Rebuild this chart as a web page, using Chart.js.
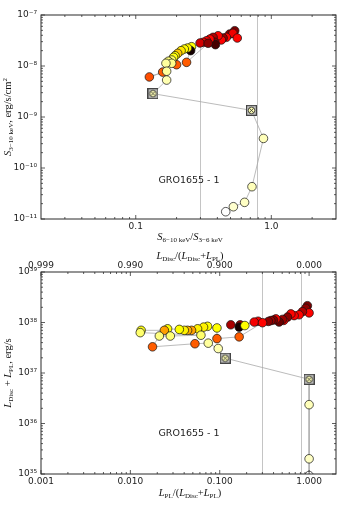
<!DOCTYPE html>
<html><head><meta charset="utf-8">
<script src="https://cdn.jsdelivr.net/npm/chart.js@4.4.1/dist/chart.umd.min.js"></script>
<style>
html,body{margin:0;padding:0;background:#fff;}
#wrap{position:relative;width:341px;height:511px;overflow:hidden;}
#c1{position:absolute;left:0;top:0;}
#c2{position:absolute;left:0;top:250px;}
</style></head><body>
<div id="wrap"><canvas id="c1" width="341" height="250"></canvas><canvas id="c2" width="341" height="261"></canvas></div>
<script>
// ---------- DATA ----------
// Upper panel: hardness S(6-10 keV)/S(3-6 keV) vs flux S(3-10 keV), in time order
const topHardness = [0.537,0.493,0.521,0.561,0.466,0.441,0.428,0.405,0.372,0.383,0.387,0.352,0.333,0.315,0.298,0.342,
  0.237,0.258,0.254,0.241,0.228,0.216,0.204,0.195,0.190,0.200,0.184,0.174,0.184,0.167,0.158,0.126,0.169,0.169,
  0.134,0.714,0.875,0.720,0.635,0.525,0.461];
const topFlux = [4.92e-8,4.24e-8,4.38e-8,3.54e-8,3.65e-8,3.54e-8,3.24e-8,3.92e-8,3.65e-8,2.92e-8,2.62e-8,3.38e-8,3.13e-8,2.92e-8,2.83e-8,2.79e-8,
  1.18e-8,2.39e-8,2.00e-8,2.25e-8,2.15e-8,2.00e-8,1.77e-8,1.59e-8,1.48e-8,1.06e-8,1.31e-8,1.24e-8,1.13e-8,1.13e-8,7.6e-9,6.1e-9,7.9e-9,5.3e-9,
  2.87e-9,1.35e-9,3.8e-10,4.3e-11,2.12e-11,1.74e-11,1.39e-11];
// colour-coded phase of the outburst (0 = early/dark, 1 = late/white)
const topPhase = [0.18,0.20,0.34,0.37,0.37,0.22,0.36,0.37,0.25,0.20,0.10,0.37,0.36,0.34,0.30,0.20,
  0.50,0.74,0.03,0.72,0.74,0.70,0.66,0.74,0.76,0.50,0.84,0.86,0.88,0.90,0.50,0.48,0.90,0.92,
  0.92,0.92,0.93,0.93,0.94,0.95,1.00];
const topFlagged = [0,0,0,0,0,0,0,0,0,0,0,0,0,0,0,0, 0,0,0,0,0,0,0,0,0,0,0,0,0,0,0,0,0,0, 1,1,0,0,0,0,0];

// Lower panel: L_PL/(L_Disc+L_PL) vs L_Disc+L_PL (erg/s), in time order
const botPLFraction = [0.957,0.919,1.0,0.842,0.773,0.680,0.625,0.573,0.520,0.503,0.462,0.425,0.400,0.373,0.350,0.269,0.243,
  0.169,0.165,0.191,0.133,0.301,0.165,0.0931,
  0.0931,0.0731,0.0659,0.0565,0.0484,0.0437,0.0401,0.0353,0.0261,0.0240,0.0132,0.0129,0.0616,0.0280,0.0211,0.0177,0.0528,0.0744,0.0962,
  0.115,1.0,1.0,1.0,1.0];
const botLum = [2.15e38,1.91e38,1.55e38,1.64e38,1.42e38,1.37e38,1.48e38,1.28e38,1.10e38,1.15e38,1.02e38,1.18e38,1.12e38,1.09e38,1.05e38,1.06e38,1.02e38,
  9.0e37,8.1e37,8.7e37,9.0e37,9.9e37,5.2e37,4.8e37,
  7.8e37,8.4e37,8.1e37,7.5e37,7.0e37,7.0e37,7.0e37,7.3e37,7.5e37,7.0e37,7.0e37,6.3e37,5.6e37,5.4e37,5.4e37,3.3e37,3.8e37,3.9e37,3.05e37,
  1.97e37,7.5e36,2.36e36,2.0e35,9.3e34];
const botPhase = [0.18,0.20,0.37,0.25,0.37,0.36,0.37,0.20,0.37,0.22,0.15,0.37,0.18,0.22,0.20,0.36,0.35,
  0.22,0.03,0.74,0.24,0.37,0.50,0.50,
  0.74,0.74,0.72,0.72,0.60,0.62,0.72,0.74,0.74,0.60,0.76,0.85,0.85,0.86,0.87,0.50,0.50,0.90,0.92,
  0.92,0.92,0.93,0.94,1.00];
const botFlagged = [0,0,0,0,0,0,0,0,0,0,0,0,0,0,0,0,0, 0,0,0,0,0,0,0, 0,0,0,0,0,0,0,0,0,0,0,0,0,0,0,0,0,0,0, 1,1,0,0,0];

// axis ticks and labels
const topXTicks = [0.1, 1];
const topXTickLabels = ['0.1', '1.0'];
const topYTicks = [1e-11, 1e-10, 1e-9, 1e-8, 1e-7];
const topYTickLabels = ['10⁻¹¹', '10⁻¹⁰', '10⁻⁹', '10⁻⁸', '10⁻⁷'];
const botXTicks = [0.001, 0.01, 0.1, 1];
const botXTickLabels = ['0.001', '0.010', '0.100', '1.000'];
const botTopTickLabels = ['0.999', '0.990', '0.900', '0.000'];
const botYTicks = [1e35, 1e36, 1e37, 1e38, 1e39];
const botYTickLabels = ['10³⁵', '10³⁶', '10³⁷', '10³⁸', '10³⁹'];
const topStateLines = [0.3, 0.785];
const botStateLines = [0.3, 0.81];
const sourceLabel = 'GRO1655 - 1';

// ---------- RENDERING ----------
function hot(t){
  const r = Math.min(1, t/0.365), g = Math.min(1, Math.max(0,(t-0.365)/0.375)), b = Math.min(1, Math.max(0,(t-0.74)/0.26));
  return 'rgb(' + Math.round(r*255) + ',' + Math.round(g*255) + ',' + Math.round(b*255) + ')';
}
function boxMarker(){
  const c = document.createElement('canvas'); c.width = 11; c.height = 11;
  const g = c.getContext('2d');
  g.fillStyle = '#444'; g.fillRect(0,0,11,11);
  g.fillStyle = '#c9c9c9'; g.fillRect(1.2,1.2,8.6,8.6);
  g.beginPath(); g.arc(5.5,5.5,3.3,0,Math.PI*2); g.fillStyle = '#ffffb8'; g.fill();
  g.lineWidth = 0.8; g.strokeStyle = '#222'; g.stroke();
  g.beginPath(); g.moveTo(3.4,3.4); g.lineTo(7.6,7.6); g.moveTo(7.6,3.4); g.lineTo(3.4,7.6); g.stroke();
  return c;
}
const BOX = boxMarker();

function logMinors(min, max){
  const out = [];
  for (let d = Math.floor(Math.log10(min)) ; d <= Math.ceil(Math.log10(max)); d++){
    for (let k = 2; k <= 9; k++){ const v = k*Math.pow(10,d); if (v > min*1.0001 && v < max*0.9999) out.push(v); }
  }
  return out;
}
function decades(min, max){
  const out = [];
  for (let d = Math.ceil(Math.log10(min)-1e-9); d <= Math.floor(Math.log10(max)+1e-9); d++) out.push(Math.pow(10,d));
  return out;
}

function rich(ctx, segs, x, y, rot){
  const M = 10.5, S = 7;
  const fontOf = s => (s.k === 'i' ? 'italic ' : '') + ((s.k === 'sub' || s.k === 'sup') ? S : M) + 'px "Liberation Serif", "DejaVu Serif", serif';
  let w = 0;
  segs.forEach(s => { ctx.font = fontOf(s); s.w = ctx.measureText(s.t).width; w += s.w; });
  ctx.save(); ctx.translate(x, y); if (rot) ctx.rotate(rot);
  ctx.textBaseline = 'alphabetic'; ctx.textAlign = 'left'; ctx.fillStyle = '#111';
  let cx = -w/2;
  segs.forEach(s => { ctx.font = fontOf(s); const dy = s.k === 'sub' ? 2.5 : (s.k === 'sup' ? -4 : 0); ctx.fillText(s.t, cx, dy + 3.5); cx += s.w; });
  ctx.restore();
}

function makeDeco(cfg){
  return {
    id: 'deco',
    beforeDatasetsDraw(chart){
      const ctx = chart.ctx, a = chart.chartArea, x = chart.scales.x;
      ctx.save(); ctx.strokeStyle = '#c4c4c4'; ctx.lineWidth = 1;
      cfg.vlines.forEach(v => { const px = Math.round(x.getPixelForValue(v)) + 0.5;
        ctx.beginPath(); ctx.moveTo(px, a.top); ctx.lineTo(px, a.bottom); ctx.stroke(); });
      ctx.restore();
    },
    afterDatasetsDraw(chart){
      const ctx = chart.ctx, a = chart.chartArea, x = chart.scales.x, y = chart.scales.y;
      ctx.save();
      ctx.strokeStyle = '#333'; ctx.lineWidth = 0.8;
      const xmaj = decades(x.min, x.max), xmin = logMinors(x.min, x.max);
      const ymaj = decades(y.min, y.max), ymin = logMinors(y.min, y.max);
      const seg = (x1,y1,x2,y2) => { ctx.beginPath(); ctx.moveTo(x1,y1); ctx.lineTo(x2,y2); ctx.stroke(); };
      [[xmaj,4],[xmin,2]].forEach(([arr,len]) => arr.forEach(v => { const p = x.getPixelForValue(v);
        seg(p, a.bottom, p, a.bottom - len); seg(p, a.top, p, a.top + len); }));
      [[ymaj,4],[ymin,2]].forEach(([arr,len]) => arr.forEach(v => { const p = y.getPixelForValue(v);
        seg(a.left, p, a.left + len, p); seg(a.right, p, a.right - len, p); }));
      ctx.strokeStyle = '#2a2a2a'; ctx.lineWidth = 1;
      ctx.strokeRect(a.left, a.top, a.right - a.left, a.bottom - a.top);
      ctx.restore();
    },
    afterDraw(chart){
      const ctx = chart.ctx;
      ctx.save();
      ctx.font = '9.5px "DejaVu Sans", sans-serif'; ctx.fillStyle = '#222'; ctx.textAlign = 'center'; ctx.textBaseline = 'middle';
      ctx.fillText(sourceLabel, cfg.label[0], cfg.label[1]);
      ctx.restore();
      cfg.titles.forEach(t => rich(ctx, t.segs, t.x, t.y, t.rot));
    }
  };
}

function ds(xs, ys, ph, fl){
  return {
    data: xs.map((v,i) => ({x: v, y: ys[i]})),
    showLine: true, borderColor: '#a9a9a9', borderWidth: 0.8,
    pointRadius: 4.3, pointHoverRadius: 4.3,
    pointBackgroundColor: ph.map(hot),
    pointBorderColor: '#111', pointBorderWidth: 0.7,
    pointStyle: fl.map(f => f ? BOX : 'circle'),
    clip: 0
  };
}
const tickFont = {family: '"DejaVu Sans", sans-serif', size: 9};
function axis(min, max, pos, ticks, labels, size, pad, isY){
  return {
    type: 'logarithmic', min, max, position: pos,
    grid: {display: false, drawTicks: false}, border: {display: false},
    ticks: {font: tickFont, color: '#222', padding: pad, autoSkip: false, maxRotation: 0,
            callback: (v, i) => labels[i]},
    afterBuildTicks: s => { s.ticks = ticks.map(v => ({value: v})); },
    afterFit: s => { if (isY) s.width = size; else s.height = size; }
  };
}
const common = {responsive: false, animation: false, devicePixelRatio: 1, events: [],
  plugins: {legend: {display: false}, tooltip: {enabled: false}}};

new Chart(document.getElementById('c1'), {
  type: 'scatter',
  data: {datasets: [ds(topHardness, topFlux, topPhase, topFlagged)]},
  options: Object.assign({}, common, {
    layout: {padding: {left: 0, right: 3, top: 15, bottom: 0}},
    scales: {
      x: axis(0.02, 3, 'bottom', topXTicks, topXTickLabels, 31, 2.5, false),
      y: axis(1e-11, 1e-7, 'left', topYTicks, topYTickLabels, 41, 4, true)
    }
  }),
  plugins: [makeDeco({
    vlines: topStateLines, label: [189, 181],
    titles: [
      {segs: [{t:'S',k:'i'},{t:'6−10 keV',k:'sub'},{t:'/',k:'r'},{t:'S',k:'i'},{t:'3−6 keV',k:'sub'}], x: 190, y: 236},
      {segs: [{t:'S',k:'i'},{t:'3−10 keV',k:'sub'},{t:', erg/s/cm',k:'r'},{t:'2',k:'sup'}], x: 7, y: 117, rot: -Math.PI/2}
    ]
  })]
});

new Chart(document.getElementById('c2'), {
  type: 'scatter',
  data: {datasets: [ds(botPLFraction, botLum, botPhase, botFlagged)]},
  options: Object.assign({}, common, {
    layout: {padding: {left: 0, right: 3, top: 0, bottom: 0}},
    scales: {
      x: axis(0.001, 2, 'bottom', botXTicks, botXTickLabels, 37, 2, false),
      x2: axis(0.001, 2, 'top', botXTicks, botTopTickLabels, 22, 1, false),
      y: axis(1e35, 1e39, 'left', botYTicks, botYTickLabels, 41, 4, true)
    }
  }),
  plugins: [makeDeco({
    vlines: botStateLines, label: [189, 184],
    titles: [
      {segs: [{t:'L',k:'i'},{t:'Disc',k:'sub'},{t:'/(',k:'r'},{t:'L',k:'i'},{t:'Disc',k:'sub'},{t:'+',k:'r'},{t:'L',k:'i'},{t:'PL',k:'sub'},{t:')',k:'r'}], x: 190, y: 5},
      {segs: [{t:'L',k:'i'},{t:'PL',k:'sub'},{t:'/(',k:'r'},{t:'L',k:'i'},{t:'Disc',k:'sub'},{t:'+',k:'r'},{t:'L',k:'i'},{t:'PL',k:'sub'},{t:')',k:'r'}], x: 190, y: 242},
      {segs: [{t:'L',k:'i'},{t:'Disc',k:'sub'},{t:' + ',k:'r'},{t:'L',k:'i'},{t:'PL',k:'sub'},{t:', erg/s',k:'r'}], x: 7, y: 123, rot: -Math.PI/2}
    ]
  })]
});
</script>
</body></html>
